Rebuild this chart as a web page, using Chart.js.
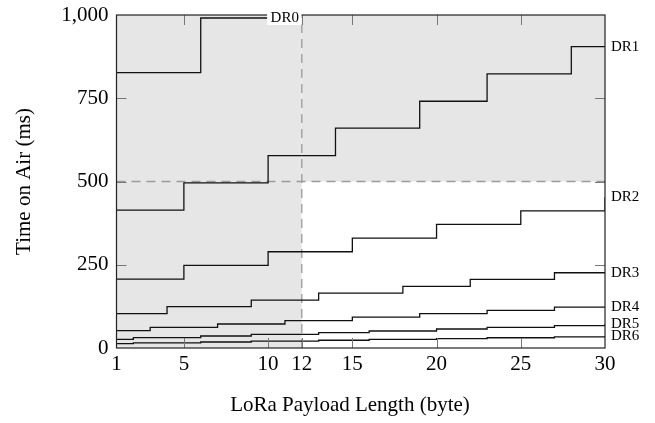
<!DOCTYPE html>
<html><head><meta charset="utf-8">
<script src="https://cdn.jsdelivr.net/npm/chart.js@4"></script>
<style>html,body{margin:0;padding:0;background:#fff}</style>
</head><body>
<canvas id="c" width="655" height="423"></canvas>
<script>
// ---- data ----
const payloadLength = [1,2,3,4,5,6,7,8,9,10,11,12,13,14,15,16,17,18,19,20,21,22,23,24,25,26,27,28,29,30];
const xTickValues = [1,5,10,12,15,20,25,30];
const yTickValues = [0,250,500,750,1000];
const yTickLabels = ['0','250','500','750','1,000'];
const seriesNames = ['DR0','DR1','DR2','DR3','DR4','DR5','DR6'];
const dr0 = [827,827,827,827,827,991,991,991,991,991];
const dr1 = [414,414,414,414,496,496,496,496,496,578,578,578,578,660,660,660,660,660,741,741,741,741,823,823,823,823,823,905,905,905];
const dr2 = [207,207,207,207,248,248,248,248,248,289,289,289,289,289,330,330,330,330,330,371,371,371,371,371,412,412,412,412,412,453];
const dr3 = [103,103,103,124,124,124,124,124,144,144,144,144,165,165,165,165,165,185,185,185,185,206,206,206,206,206,226,226,226,226];
const dr4 = [52,52,62,62,62,62,72,72,72,72,82,82,82,82,93,93,93,93,103,103,103,103,113,113,113,113,123,123,123,123];
const dr5 = [26,31,31,31,31,36,36,36,41,41,41,41,46,46,46,51,51,51,51,57,57,57,62,62,62,62,67,67,67,72];
const dr6 = [13,15.5,15.5,15.5,15.5,18,18,18,20.6,20.6,20.6,20.6,23.2,23.2,23.2,25.7,25.7,25.7,25.7,28.3,28.3,28.3,30.8,30.8,30.8,30.8,33.4,33.4,33.4,36];
const seriesValues = [dr0,dr1,dr2,dr3,dr4,dr5,dr6];
const limitPayload = 12;
const limitTime = 500;
const xMin = 1, xMax = 30, yMin = 0, yMax = 1000;
const xTitle = 'LoRa Payload Length (byte)';
const yTitle = 'Time on Air (ms)';

// ---- chart ----
const SERIF = '"Liberation Serif", "DejaVu Serif", serif';
const datasets = [];
seriesNames.forEach((name, i) => {
  datasets.push({
    label: name,
    data: seriesValues[i].map((v, j) => ({x: payloadLength[j], y: v})),
    stepped: 'before',
    borderColor: '#111',
    borderWidth: 1.3,
    pointRadius: 0,
    fill: false,
    order: 0
  });
});
datasets.push({label:'regionA', data:[{x:xMin,y:yMax},{x:limitPayload,y:yMax}], fill:'origin',
  backgroundColor:'#e6e6e6', borderColor:'rgba(0,0,0,0)', borderWidth:0, pointRadius:0, order:5});
datasets.push({label:'regionB', data:[{x:limitPayload,y:yMax},{x:xMax,y:yMax}], fill:{value:limitTime},
  backgroundColor:'#e6e6e6', borderColor:'rgba(0,0,0,0)', borderWidth:0, pointRadius:0, order:5});
datasets.push({label:'limitV', data:[{x:limitPayload,y:yMin},{x:limitPayload,y:yMax}], fill:false,
  borderColor:'#9a9a9a', borderWidth:1.3, borderDash:[9,6], pointRadius:0, order:3});
datasets.push({label:'limitH', data:[{x:xMin,y:limitTime},{x:xMax,y:limitTime}], fill:false,
  borderColor:'#9a9a9a', borderWidth:1.3, borderDash:[9,6], pointRadius:0, order:3});

const decor = {
  id: 'decor',
  afterDatasetsDraw(chart) {
    const ctx = chart.ctx, xs = chart.scales.x, ys = chart.scales.y, a = chart.chartArea;
    ctx.save();
    // ticks (inward, all four sides)
    ctx.strokeStyle = '#777'; ctx.lineWidth = 1;
    const TL = 10;
    xTickValues.forEach(v => {
      if (v === xMin || v === xMax) return;
      const px = Math.round(xs.getPixelForValue(v)) + 0.5;
      ctx.beginPath(); ctx.moveTo(px, a.bottom); ctx.lineTo(px, a.bottom - TL);
      ctx.moveTo(px, a.top); ctx.lineTo(px, a.top + TL); ctx.stroke();
    });
    yTickValues.forEach(v => {
      if (v === yMin || v === yMax) return;
      const py = Math.round(ys.getPixelForValue(v)) + 0.5;
      ctx.beginPath(); ctx.moveTo(a.left, py); ctx.lineTo(a.left + TL, py);
      ctx.moveTo(a.right, py); ctx.lineTo(a.right - TL, py); ctx.stroke();
    });
    // axis box
    ctx.strokeStyle = '#222'; ctx.lineWidth = 1.2;
    ctx.strokeRect(a.left, a.top, a.right - a.left, a.bottom - a.top);
    // series labels
    ctx.font = '15px ' + SERIF; ctx.fillStyle = '#000'; ctx.textBaseline = 'middle'; ctx.textAlign = 'left';
    seriesNames.forEach((name, i) => {
      const vals = seriesValues[i];
      const lastX = payloadLength[vals.length - 1];
      const lastY = vals[vals.length - 1];
      const py = ys.getPixelForValue(lastY);
      if (lastX === xMax) {
        ctx.fillText(name, xs.getPixelForValue(lastX) + 6, py);
      } else {
        const px = xs.getPixelForValue(lastX);
        const w = ctx.measureText(name).width;
        ctx.fillStyle = '#fff';
        ctx.fillRect(px - 1, py - 7, w + 6, 14);
        ctx.fillStyle = '#000';
        ctx.fillText(name, px + 2.5, py + 0.5);
      }
    });
    // axis titles
    ctx.font = '21px ' + SERIF; ctx.textAlign = 'center'; ctx.textBaseline = 'middle';
    ctx.fillText(xTitle, 350, 405);
    ctx.translate(24, (a.top + a.bottom) / 2);
    ctx.rotate(-Math.PI / 2);
    ctx.fillText(yTitle, 0, 0);
    ctx.restore();
  }
};

new Chart(document.getElementById('c'), {
  type: 'line',
  data: { datasets },
  options: {
    responsive: false,
    devicePixelRatio: 1,
    animation: false,
    layout: { padding: { top: 15, right: 50, left: 0, bottom: 0 } },
    plugins: { legend: { display: false }, tooltip: { enabled: false } },
    scales: {
      x: {
        type: 'linear', min: xMin, max: xMax,
        afterBuildTicks: s => { s.ticks = xTickValues.map(v => ({value: v})); },
        afterFit: s => { s.height = 75; s.paddingLeft = 0; s.paddingRight = 0; },
        ticks: { autoSkip: false, maxRotation: 0, padding: 4, color: '#000',
          font: { family: SERIF, size: 21 }, callback: v => String(v) },
        grid: { display: false, drawTicks: false },
        border: { display: false }
      },
      y: {
        type: 'linear', min: yMin, max: yMax,
        afterBuildTicks: s => { s.ticks = yTickValues.map(v => ({value: v})); },
        afterFit: s => { s.width = 116.5; s.paddingTop = 0; s.paddingBottom = 0; },
        ticks: { autoSkip: false, padding: 8, color: '#000',
          font: { family: SERIF, size: 21 },
          callback: v => yTickLabels[yTickValues.indexOf(v)] },
        grid: { display: false, drawTicks: false },
        border: { display: false }
      }
    }
  },
  plugins: [decor]
});
</script>
</body></html>
